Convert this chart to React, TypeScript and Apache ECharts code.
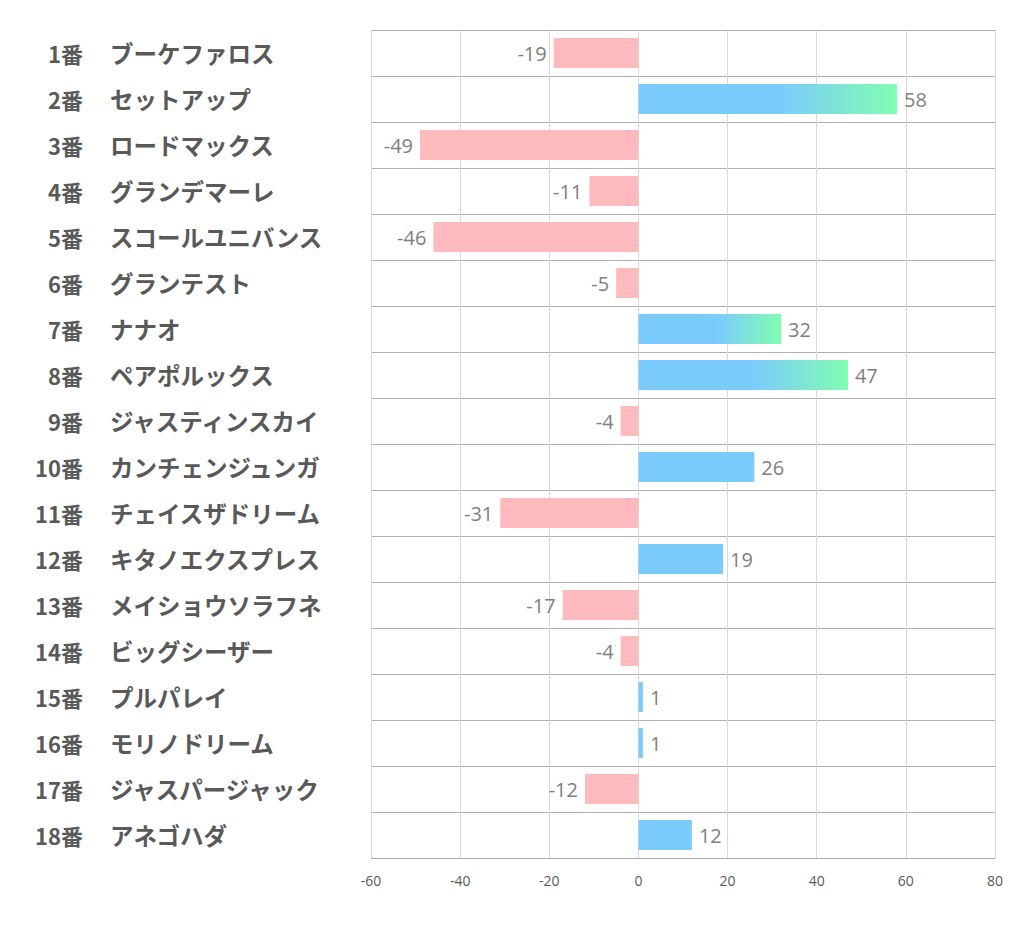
import React, { useEffect, useRef } from "react";
import * as echarts from "echarts";

const horseNos = ["1番","2番","3番","4番","5番","6番","7番","8番","9番","10番","11番","12番","13番","14番","15番","16番","17番","18番"];
const horseNames = ["ブーケファロス","セットアップ","ロードマックス","グランデマーレ","スコールユニバンス","グランテスト","ナナオ","ペアポルックス","ジャスティンスカイ","カンチェンジュンガ","チェイスザドリーム","キタノエクスプレス","メイショウソラフネ","ビッグシーザー","プルパレイ","モリノドリーム","ジャスパージャック","アネゴハダ"];
const values = [-19, 58, -49, -11, -46, -5, 32, 47, -4, 26, -31, 19, -17, -4, 1, 1, -12, 12];
const xMin = -60;
const xMax = 80;
const xInterval = 20;

const PINK = "#ffbabd";
const BLUE = "#7ccbfd";
const GREEN = "#80fdb0";

export default function App() {
  const ref = useRef<HTMLDivElement>(null);
  useEffect(() => {
    if (!ref.current) return;
    const chart = echarts.init(ref.current, null, { renderer: "svg" });
    const data = values.map((v) => {
      let color: any = v < 0 ? PINK : BLUE;
      if (v > 30) {
        color = new echarts.graphic.LinearGradient(0, 0, 1, 0, [
          { offset: 0, color: BLUE },
          { offset: 0.55, color: BLUE },
          { offset: 1, color: GREEN },
        ]);
      }
      return {
        value: v,
        itemStyle: { color },
        label: { position: v < 0 ? "left" : "right" },
      };
    });
    const labelBase = {
      fontWeight: "bold",
      color: "#595959",
      fontFamily: "Noto Sans CJK JP",
      padding: [0, 0, 6, 0],
    };
    chart.setOption({
      animation: false,
      grid: { left: 371, right: 27, top: 30, bottom: 81, containLabel: false },
      xAxis: {
        type: "value",
        min: xMin,
        max: xMax,
        interval: xInterval,
        axisLine: { show: true, lineStyle: { color: "#aaaaaa", width: 1 } },
        axisTick: { show: false },
        splitLine: { show: true, lineStyle: { color: "#d9d9d9", width: 1 } },
        axisLabel: { color: "#595959", fontSize: 14, margin: 15, fontFamily: "Open Sans, sans-serif" },
      },
      yAxis: [
        {
          type: "category",
          inverse: true,
          data: horseNos,
          axisLine: { show: false },
          axisTick: { show: false },
          splitLine: { show: true, lineStyle: { color: "#b0b0b0", width: 1 } },
          axisLabel: { ...labelBase, fontSize: 22, align: "right", margin: 288 },
        },
        {
          type: "category",
          inverse: true,
          position: "left",
          data: horseNames,
          axisLine: { show: false },
          axisTick: { show: false },
          splitLine: { show: false },
          axisLabel: { ...labelBase, fontSize: 23.5, align: "left", margin: 261 },
        },
      ],
      series: [
        {
          type: "bar",
          data,
          barWidth: 30,
          label: {
            show: true,
            distance: 7,
            color: "#7f7f7f",
            fontSize: 20,
            fontFamily: "Open Sans, sans-serif",
          },
        },
      ],
    });
    return () => chart.dispose();
  }, []);
  return (
    <div
      ref={ref}
      style={{ position: "fixed", left: 0, top: 0, width: 1022, height: 939, background: "#ffffff" }}
    />
  );
}
